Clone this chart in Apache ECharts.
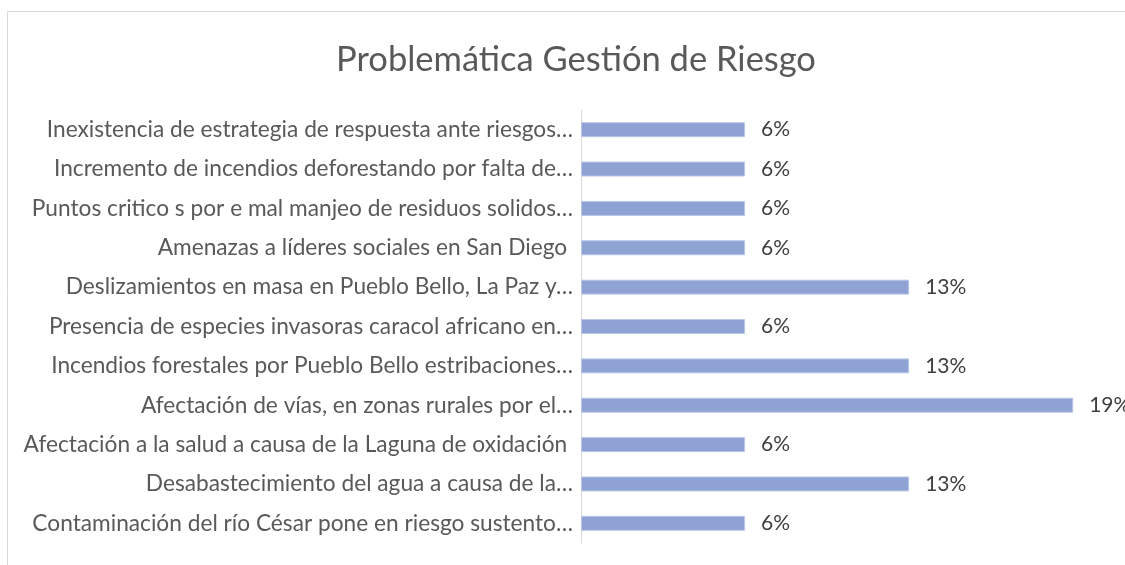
<!DOCTYPE html>
<html>
<head>
<meta charset="utf-8">
<script src="https://cdn.jsdelivr.net/npm/echarts@6/dist/echarts.min.js"></script>
<style>
  html, body { margin: 0; padding: 0; background: #fff; }
  #chart { width: 1125px; height: 565px; }
</style>
</head>
<body>
<div id="chart"></div>
<script>
// categorias (de arriba hacia abajo)
var categories = [
  'Inexistencia de estrategia de respuesta ante riesgos…',
  'Incremento de incendios deforestando por falta de…',
  'Puntos critico s por e mal manjeo de residuos solidos…',
  'Amenazas a líderes sociales en San Diego ',
  'Deslizamientos en masa en Pueblo Bello, La Paz y…',
  'Presencia de especies invasoras caracol africano en…',
  'Incendios forestales por Pueblo Bello estribaciones…',
  'Afectación de vías, en zonas rurales por el…',
  'Afectación a la salud a causa de la Laguna de oxidación ',
  'Desabastecimiento del agua a causa de la…',
  'Contaminación del río César pone en riesgo sustento…'
];
// porcentajes (fraccion)
var values = [0.0625, 0.0625, 0.0625, 0.0625, 0.125, 0.0625, 0.125, 0.1875, 0.0625, 0.125, 0.0625];

var titleText = 'Problemática Gestión de Riesgo';
var fontFam = 'Lato, "Open Sans", sans-serif';

var chart = echarts.init(document.getElementById('chart'));
chart.setOption({
  backgroundColor: '#fff',
  animation: false,
  title: {
    text: titleText,
    left: 571,
    top: 37,
    textAlign: 'center',
    textStyle: {
      fontFamily: fontFam,
      fontWeight: 'normal',
      fontSize: 34.5,
      color: '#595959'
    }
  },
  graphic: [{
    type: 'rect',
    shape: { x: 7.5, y: 11.5, width: 1300, height: 700 },
    style: { fill: null, stroke: '#d9d9d9', lineWidth: 1 },
    silent: true
  }],
  grid: {
    left: 581,
    right: 19,
    top: 110,
    bottom: 22,
    containLabel: false
  },
  xAxis: {
    type: 'value',
    min: 0,
    max: 0.2,
    show: false
  },
  yAxis: {
    type: 'category',
    inverse: true,
    data: categories,
    axisTick: { show: false },
    axisLine: { show: true, lineStyle: { color: '#d9d9d9', width: 1 } },
    axisLabel: {
      margin: 8,
      interval: 0,
      fontFamily: fontFam,
      fontSize: 22.7,
      color: '#595959'
    }
  },
  series: [{
    type: 'bar',
    data: values,
    barWidth: '38%',
    itemStyle: {
      color: '#8fa2d4',
      borderColor: '#b9c6e8',
      borderWidth: 1
    },
    label: {
      show: true,
      position: 'right',
      distance: 16,
      fontFamily: fontFam,
      fontSize: 21,
      color: '#404040',
      formatter: function (p) {
        return Math.round(p.value * 100) + '%';
      }
    }
  }]
});
</script>
</body>
</html>
